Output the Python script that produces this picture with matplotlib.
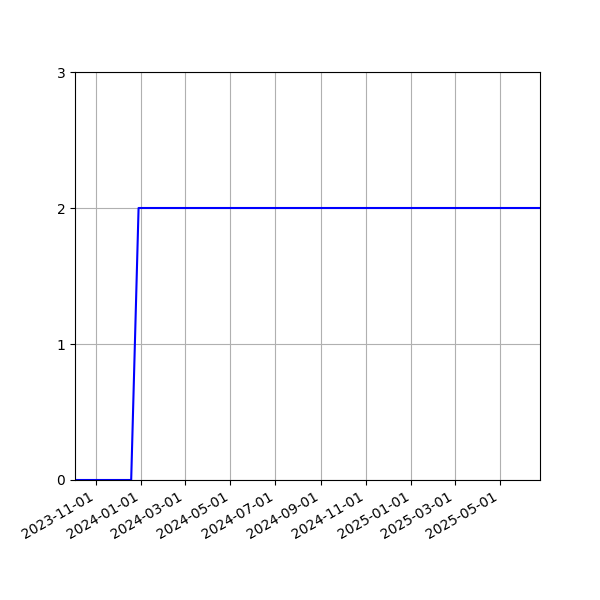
import numpy as np
import matplotlib
matplotlib.use('Agg')
import matplotlib.pyplot as plt
import matplotlib.dates as mdates

dates = np.array(['2023-10-04', '2023-12-19', '2023-12-29', '2025-06-24'], dtype='datetime64[D]')
values = [0, 0, 2, 2]

fig, ax = plt.subplots(figsize=(6, 6), dpi=100)
ax.plot(dates, values, color='blue', linewidth=1.5)
ax.set_xlim(dates[0], dates[-1])
ax.set_ylim(0, 3)
ax.set_yticks([0, 1, 2, 3])
ax.xaxis.set_major_locator(mdates.MonthLocator(bymonth=[1, 3, 5, 7, 9, 11]))
ax.xaxis.set_major_formatter(mdates.DateFormatter('%Y-%m-%d'))
ax.grid(True)
fig.autofmt_xdate()
fig.savefig('out.png')
